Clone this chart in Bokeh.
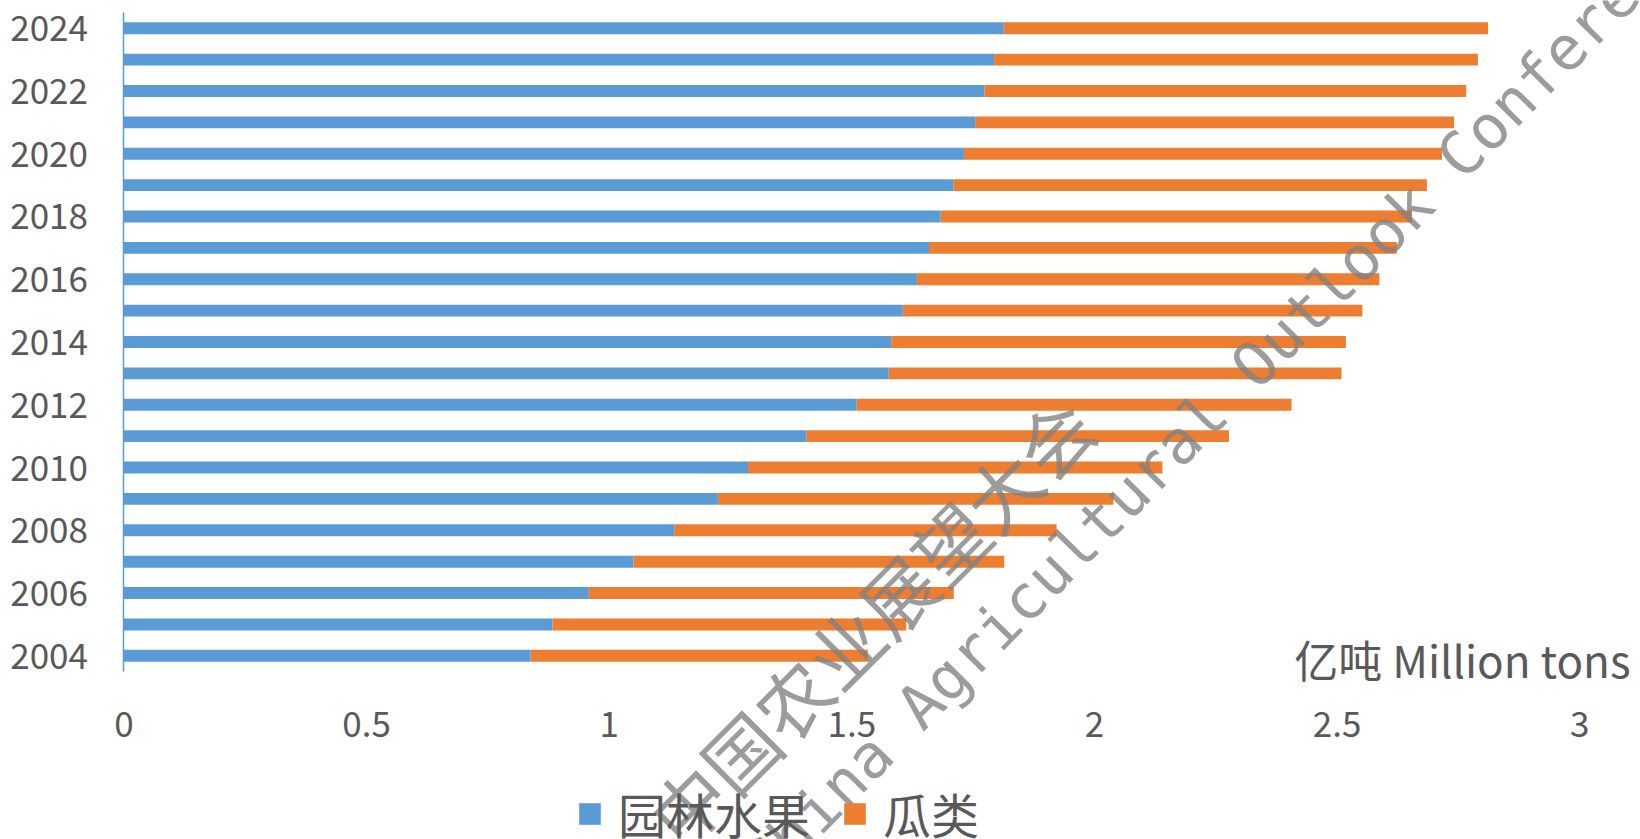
import math
from bokeh.plotting import figure
from bokeh.models import (ColumnDataSource, Range1d, FixedTicker, NumeralTickFormatter,
                          Legend, LegendItem, Label)
from bokeh.embed import file_html
from bokeh.resources import INLINE

# ---- data (亿吨) ----
years = [2004, 2005, 2006, 2007, 2008, 2009, 2010, 2011, 2012, 2013, 2014,
         2015, 2016, 2017, 2018, 2019, 2020, 2021, 2022, 2023, 2024]
fruit = [0.838, 0.883, 0.958, 1.050, 1.134, 1.224, 1.286, 1.406, 1.510, 1.576, 1.581,
         1.605, 1.634, 1.659, 1.683, 1.709, 1.731, 1.754, 1.773, 1.793, 1.813]
melon = [0.695, 0.729, 0.752, 0.764, 0.788, 0.815, 0.854, 0.871, 0.896, 0.933, 0.937,
         0.947, 0.953, 0.964, 0.971, 0.976, 0.985, 0.987, 0.993, 0.997, 0.998]
series_names = ["园林水果", "瓜类"]
x_ticks = [0, 0.5, 1, 1.5, 2, 2.5, 3]
y_ticks = [2004, 2006, 2008, 2010, 2012, 2014, 2016, 2018, 2020, 2022, 2024]
unit_text = "亿吨 Million tons"
wm_cn = "中国农业展望大会"
wm_en = "China Agricultural Outlook Conference"

BLUE = "#5B9BD5"
ORANGE = "#ED7D31"
TXT = "#595959"
FONT = "Noto Sans CJK SC"

source = ColumnDataSource(dict(year=years, fruit=fruit, melon=melon))

# frame covers the whole canvas; axes are drawn at fixed locations
p = figure(width=1640, height=839, output_backend="svg", toolbar_location=None,
           x_range=Range1d(-0.2543, 3.1251), y_range=Range1d(1998.146, 2024.883),
           min_border=0)
p.outline_line_color = None
p.background_fill_color = "white"
p.border_fill_color = "white"
p.xgrid.visible = False
p.ygrid.visible = False

rs = p.hbar_stack(["fruit", "melon"], y="year", height=0.38, color=[BLUE, ORANGE],
                  line_color=None, source=source)

# x axis
xa = p.xaxis[0]
xa.fixed_location = 2003.5
xa.bounds = (0, 3)
xa.ticker = FixedTicker(ticks=x_ticks)
xa.formatter = NumeralTickFormatter(format="0.[0]")
xa.axis_line_color = None
xa.major_tick_line_color = None
xa.minor_tick_line_color = None
xa.major_label_standoff = 34
xa.major_label_text_font = FONT
xa.major_label_text_font_size = "35px"
xa.major_label_text_color = TXT

# y axis
ya = p.yaxis[0]
ya.fixed_location = 0
ya.bounds = (2003.5, 2024.5)
ya.ticker = FixedTicker(ticks=y_ticks)
ya.axis_line_color = BLUE
ya.axis_line_width = 1.5
ya.major_tick_line_color = None
ya.minor_tick_line_color = None
ya.major_label_standoff = 30
ya.major_label_text_font = FONT
ya.major_label_text_font_size = "35px"
ya.major_label_text_color = TXT

# unit label
p.add_layout(Label(x=3.1045, y=2003.89, text=unit_text, text_align="right",
                   text_baseline="middle", text_font=FONT,
                   text_font_size="44px", text_color=TXT))

# legend
legend = Legend(items=[LegendItem(label=series_names[0], renderers=[rs[0]]),
                       LegendItem(label=series_names[1], renderers=[rs[1]])],
                orientation="horizontal", location=(576, -9),
                glyph_width=27, glyph_height=27, label_standoff=15, spacing=31,
                padding=0, margin=0, border_line_color=None,
                background_fill_alpha=0,
                label_text_font=FONT, label_text_font_size="48px",
                label_text_color=TXT)
p.add_layout(legend, "center")

# watermark
p.add_layout(Label(x=1.1057, y=1998.48, text=wm_cn, angle=math.pi / 4,
                   text_align="left", text_baseline="middle",
                   text_font=FONT, text_font_size="74px",
                   text_color="#808080", text_alpha=0.78))
p.add_layout(Label(x=1.2967, y=1997.03, text=wm_en, angle=math.radians(45.5),
                   text_align="left", text_baseline="middle",
                   text_font="DejaVu Sans Mono", text_font_size="61px",
                   text_color="#808080", text_alpha=0.78))

open("out.html", "w").write(file_html(p, INLINE))
